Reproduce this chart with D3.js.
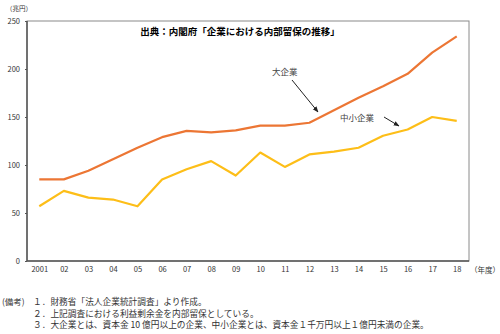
<!DOCTYPE html>
<html><head><meta charset="utf-8">
<script src="https://cdn.jsdelivr.net/npm/d3@7/dist/d3.min.js"></script>
<style>
body{margin:0;background:#fff;}
svg text{font-family:"Noto Sans CJK JP","Noto Serif CJK JP",serif;}
</style>
</head><body>
<svg id="c" width="500" height="334"></svg>
<script>
const years = ["2001","02","03","04","05","06","07","08","09","10","11","12","13","14","15","16","17","18"];
const largeCorp = [85,85,94,106,118,129,135.5,134,136,141,141,144,157,170,182,195,217,234];
const smallCorp = [57,73,66,64,57,85,95.5,104,89,113,98,111,114,118,130.5,137,150,146];
const yTicks = [0,50,100,150,200,250];
const notes = [
  "１．財務省「法人企業統計調査」より作成。",
  "２．上記調査における利益剰余金を内部留保としている。",
  "３．大企業とは、資本金 10 億円以上の企業、中小企業とは、資本金１千万円以上１億円未満の企業。"
];

const svg = d3.select("#c");
const L=27, R=469, T=21, B=261;
const x = d3.scalePoint().domain(years).range([L,R]).padding(0.5);
const y = d3.scaleLinear().domain([0,250]).range([B,T]);

// frame
svg.append("rect").attr("x",L).attr("y",T).attr("width",R-L).attr("height",B-T)
  .attr("fill","none").attr("stroke","#8a8a8a").attr("stroke-width",1);
svg.append("path").attr("d",`M${L},${T}V${B}H${R}`).attr("fill","none").attr("stroke","#555").attr("stroke-width",1.5);

// y axis
const ya = svg.append("g").attr("transform",`translate(${L},0)`)
  .call(d3.axisLeft(y).tickValues(yTicks).tickSize(2).tickPadding(5));
ya.select(".domain").remove();
ya.selectAll("line").attr("stroke","#555");
ya.selectAll("text").attr("font-size",7.5).attr("fill","#333").attr("font-family","'Liberation Serif',serif");

// x axis
const xa = svg.append("g").attr("transform",`translate(0,${B})`)
  .call(d3.axisBottom(x).tickSize(0).tickPadding(6));
xa.select(".domain").remove();
xa.selectAll("text").attr("font-size",7.5).attr("fill","#333").attr("font-family","'Liberation Serif',serif");

svg.append("text").attr("x",470).attr("y",273).attr("font-size",7.5).attr("fill","#333").text("（年度）");
svg.append("text").attr("x",6).attr("y",11).attr("font-size",6.5).attr("fill","#333").text("（兆円）");

// lines
const line = d3.line().x((d,i)=>x(years[i])).y(d=>y(d));
svg.append("path").datum(largeCorp).attr("d",line).attr("fill","none")
  .attr("stroke","#EC7634").attr("stroke-width",2.2).attr("stroke-linejoin","round");
svg.append("path").datum(smallCorp).attr("d",line).attr("fill","none")
  .attr("stroke","#FDBE18").attr("stroke-width",2.2).attr("stroke-linejoin","round");

// title
svg.append("text").attr("x",240).attr("y",35).attr("text-anchor","middle")
  .attr("font-size",9.5).attr("font-weight","bold").attr("fill","#000")
  .text("出典：内閣府「企業における内部留保の推移」");

// annotations
const defs = svg.append("defs");
defs.append("marker").attr("id","ah").attr("viewBox","0 0 10 10").attr("refX",9).attr("refY",5)
  .attr("markerWidth",6).attr("markerHeight",6).attr("orient","auto")
  .append("path").attr("d","M0,1L10,5L0,9z").attr("fill","#222");
svg.append("text").attr("x",272).attr("y",75).attr("font-size",8.5).attr("fill","#444").text("大企業");
svg.append("line").attr("x1",292).attr("y1",80).attr("x2",318).attr("y2",112)
  .attr("stroke","#222").attr("stroke-width",1).attr("marker-end","url(#ah)");
svg.append("text").attr("x",340).attr("y",121).attr("font-size",8.5).attr("fill","#444").text("中小企業");
svg.append("line").attr("x1",384).attr("y1",117).attr("x2",399).attr("y2",126)
  .attr("stroke","#222").attr("stroke-width",1).attr("marker-end","url(#ah)");

// notes
svg.append("text").attr("x",2).attr("y",305).attr("font-size",8.5).attr("fill","#333").text("(備考)");
notes.forEach((n,i)=>{
  svg.append("text").attr("x",33).attr("y",305+i*11.5).attr("font-size",8.7).attr("fill","#333").text(n);
});
</script>
</body></html>
